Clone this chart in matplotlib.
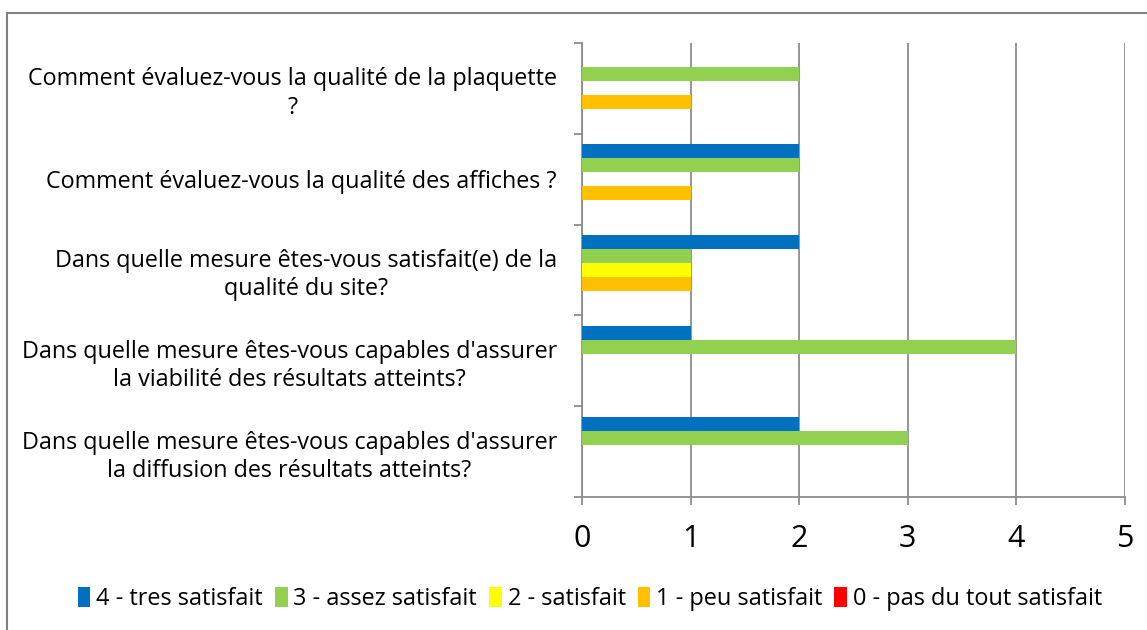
import matplotlib.pyplot as plt
import numpy as np
from matplotlib.patches import Rectangle

# categories from bottom to top, as drawn
CATEGORIES = [
    "Dans quelle mesure êtes-vous capables d'assurer\nla diffusion des résultats atteints?",
    "Dans quelle mesure êtes-vous capables d'assurer\nla viabilité des résultats atteints?",
    "Dans quelle mesure êtes-vous satisfait(e) de la\nqualité du site?",
    "Comment évaluez-vous la qualité des affiches ?",
    "Comment évaluez-vous la qualité de la plaquette\n?",
]
SERIES = [
    "4 - tres satisfait",
    "3 - assez satisfait",
    "2 - satisfait",
    "1 - peu satisfait",
    "0 - pas du tout satisfait",
]
TRES_SATISFAIT = [2, 1, 2, 2, 0]
ASSEZ_SATISFAIT = [3, 4, 1, 2, 2]
SATISFAIT = [0, 0, 1, 0, 0]
PEU_SATISFAIT = [0, 0, 1, 1, 1]
PAS_SATISFAIT = [0, 0, 0, 0, 0]
X_TICKS = [0, 1, 2, 3, 4, 5]

COLORS = ["#0070C0", "#92D050", "#FFFF00", "#FFC000", "#FF0000"]
GRID = "#8C8C8C"

plt.rcParams["font.family"] = ["Open Sans", "DejaVu Sans"]

fig = plt.figure(figsize=(11.47, 6.30), dpi=100)
ax = fig.add_axes([582 / 1147, 1 - 497 / 630, 543 / 1147, 454 / 630])

# outer frame of the chart area
fig.add_artist(Rectangle((7 / 1147, -0.05), 1.05, 0.05 + (1 - 13 / 630),
                         transform=fig.transFigure, fill=False,
                         edgecolor="#808080", linewidth=1.5))

y = np.arange(len(CATEGORIES))
h = 14 / 90.8
all_values = [TRES_SATISFAIT, ASSEZ_SATISFAIT, SATISFAIT, PEU_SATISFAIT, PAS_SATISFAIT]
for i, (vals, lab, col) in enumerate(zip(all_values, SERIES, COLORS)):
    ax.barh(y + (2 - i) * h, vals, height=h, color=col, label=lab, zorder=3)

ax.set_xlim(0, 5)
ax.set_ylim(-0.5, len(CATEGORIES) - 0.5)
ax.set_xticks(X_TICKS)
ax.set_yticks(y)
ax.set_yticklabels(CATEGORIES, multialignment="center", fontsize=16.8,
                   linespacing=1.25)
ax.set_yticks(np.arange(-0.5, len(CATEGORIES)), minor=True)
ax.tick_params(axis="y", which="major", length=0, pad=18)
ax.tick_params(axis="y", which="minor", length=5.5, width=1.3, color=GRID)
ax.tick_params(axis="x", length=5.5, width=1.3, color=GRID, labelsize=22, pad=14)

ax.grid(axis="x", color=GRID, linewidth=1.3, zorder=0)
for s in ["top", "right"]:
    ax.spines[s].set_visible(False)
for s in ["left", "bottom"]:
    ax.spines[s].set_color(GRID)
    ax.spines[s].set_linewidth(1.3)

fig.legend(loc="center", bbox_to_anchor=(590 / 1147, 1 - 599 / 630), ncol=5,
           frameon=False, fontsize=16.9, handlelength=0.55, handleheight=0.9,
           handletextpad=0.25, columnspacing=0.5)

fig.savefig("out.png", dpi=100)
